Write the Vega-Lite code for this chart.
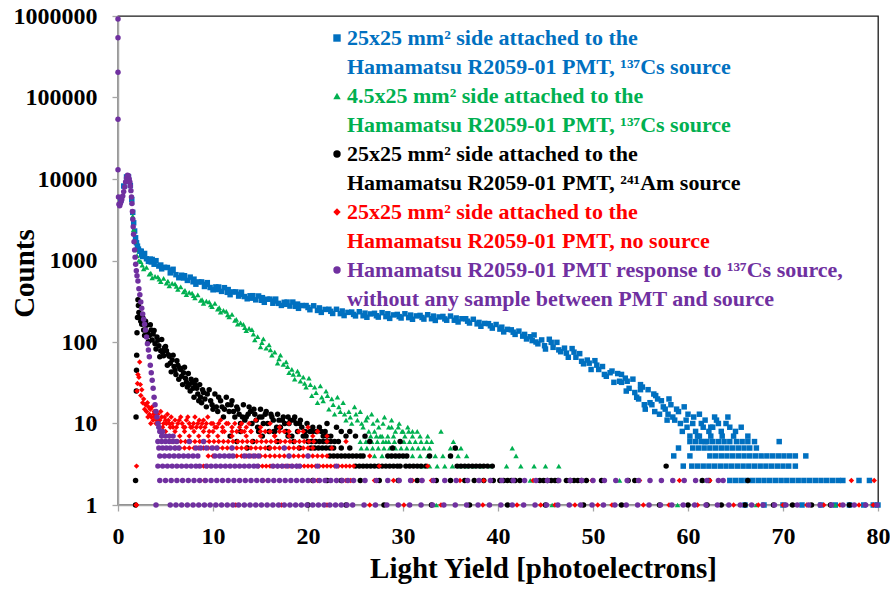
{
"$schema":"https://vega.github.io/schema/vega-lite/v6.json",
"width":760,"height":489,
"autosize":{"type":"none"},
"padding":{"left":118,"top":16,"right":12,"bottom":85},
"background":"white",
"config":{
"view":{"stroke":"#1a1a1a","strokeWidth":1.3},
"axis":{"grid":false,"domainColor":"#A6A6A6","domainWidth":1.5,"tickColor":"#A6A6A6","tickWidth":1.3,"tickSize":6,"labelFont":"Liberation Serif","labelFontWeight":"bold","labelFontSize":24,"labelColor":"#000","titleFont":"Liberation Serif","titleFontWeight":"bold","titleFontSize":29,"titleColor":"#000"}
},
"data":{"values":[
{"s":"B","x":0.3,"y":5500},{"s":"B","x":0.6,"y":8200},{"s":"B","x":0.9,"y":10600},{"s":"B","x":1.1,"y":10700},{"s":"B","x":1.3,"y":8300},{"s":"B","x":1.45,"y":5600},{"s":"B","x":1.55,"y":3900},{"s":"B","x":1.65,"y":2900},
{"s":"B","x":1.75,"y":2300},{"s":"B","x":1.85,"y":1900},{"s":"B","x":1.95,"y":1650},{"s":"B","x":2.05,"y":1500},{"s":"B","x":2.15,"y":1380},{"s":"B","x":2.3,"y":1300},{"s":"B","x":2.45,"y":1300},{"s":"B","x":2.6,"y":1120},{"s":"B","x":2.8,"y":1220},{"s":"B","x":3.0,"y":1050},{"s":"B","x":3.2,"y":975},{"s":"B","x":3.4,"y":1040},{"s":"B","x":3.6,"y":1030},{"s":"B","x":3.8,"y":900},{"s":"B","x":4.0,"y":995},{"s":"B","x":4.3,"y":855},{"s":"B","x":4.6,"y":790},{"s":"B","x":4.9,"y":825},{"s":"B","x":5.2,"y":820},{"s":"B","x":5.5,"y":705},{"s":"B","x":5.8,"y":780},{"s":"B","x":6.1,"y":670},{"s":"B","x":6.4,"y":615},{"s":"B","x":6.7,"y":660},{"s":"B","x":7.0,"y":650},{"s":"B","x":7.3,"y":570},{"s":"B","x":7.6,"y":625},{"s":"B","x":7.9,"y":548},{"s":"B","x":8.2,"y":512},{"s":"B","x":8.5,"y":546},{"s":"B","x":8.8,"y":546},{"s":"B","x":9.1,"y":480},{"s":"B","x":9.4,"y":535},{"s":"B","x":9.7,"y":466},{"s":"B","x":10.0,"y":437},{"s":"B","x":10.3,"y":474},{"s":"B","x":10.6,"y":473},{"s":"B","x":10.9,"y":418},{"s":"B","x":11.2,"y":464},{"s":"B","x":11.5,"y":407},{"s":"B","x":11.8,"y":381},{"s":"B","x":12.1,"y":412},{"s":"B","x":12.4,"y":412},{"s":"B","x":12.7,"y":366},{"s":"B","x":13.0,"y":408},{"s":"B","x":13.3,"y":361},{"s":"B","x":13.6,"y":339},{"s":"B","x":13.9,"y":369},{"s":"B","x":14.2,"y":370},{"s":"B","x":14.5,"y":329},{"s":"B","x":14.8,"y":367},{"s":"B","x":15.1,"y":325},{"s":"B","x":15.4,"y":307},{"s":"B","x":15.7,"y":335},{"s":"B","x":16.0,"y":336},{"s":"B","x":16.3,"y":299},{"s":"B","x":16.6,"y":336},{"s":"B","x":16.9,"y":298},{"s":"B","x":17.2,"y":281},{"s":"B","x":17.5,"y":307},{"s":"B","x":17.8,"y":309},{"s":"B","x":18.1,"y":276},{"s":"B","x":18.4,"y":309},{"s":"B","x":18.7,"y":274},{"s":"B","x":19.0,"y":259},{"s":"B","x":19.4,"y":280},{"s":"B","x":19.8,"y":280},{"s":"B","x":20.2,"y":249},{"s":"B","x":20.6,"y":278},{"s":"B","x":21.0,"y":244},{"s":"B","x":21.4,"y":231},{"s":"B","x":21.8,"y":251},{"s":"B","x":22.2,"y":252},{"s":"B","x":22.6,"y":224},{"s":"B","x":23.0,"y":252},{"s":"B","x":23.4,"y":223},{"s":"B","x":23.8,"y":211},{"s":"B","x":24.2,"y":231},{"s":"B","x":24.6,"y":233},{"s":"B","x":25.0,"y":209},{"s":"B","x":25.4,"y":235},{"s":"B","x":25.8,"y":210},{"s":"B","x":26.2,"y":201},{"s":"B","x":26.6,"y":221},{"s":"B","x":27.0,"y":225},{"s":"B","x":27.4,"y":202},{"s":"B","x":27.8,"y":229},{"s":"B","x":28.2,"y":205},{"s":"B","x":28.6,"y":195},{"s":"B","x":29.0,"y":215},{"s":"B","x":29.4,"y":218},{"s":"B","x":29.8,"y":197},{"s":"B","x":30.2,"y":222},{"s":"B","x":30.6,"y":199},{"s":"B","x":31.0,"y":190},{"s":"B","x":31.4,"y":209},{"s":"B","x":31.8,"y":212},{"s":"B","x":32.2,"y":191},{"s":"B","x":32.6,"y":216},{"s":"B","x":33.0,"y":193},{"s":"B","x":33.4,"y":184},{"s":"B","x":33.8,"y":203},{"s":"B","x":34.2,"y":206},{"s":"B","x":34.6,"y":185},{"s":"B","x":35.0,"y":208},{"s":"B","x":35.4,"y":185},{"s":"B","x":35.8,"y":176},{"s":"B","x":36.2,"y":193},{"s":"B","x":36.6,"y":193},{"s":"B","x":37.0,"y":171},{"s":"B","x":37.4,"y":190},{"s":"B","x":37.8,"y":167},{"s":"B","x":38.2,"y":156},{"s":"B","x":38.6,"y":169},{"s":"B","x":39.0,"y":168},{"s":"B","x":39.4,"y":148},{"s":"B","x":39.8,"y":164},{"s":"B","x":40.2,"y":144},{"s":"B","x":40.6,"y":133},{"s":"B","x":41.0,"y":143},{"s":"B","x":41.4,"y":141},{"s":"B","x":41.8,"y":124},{"s":"B","x":42.2,"y":136},{"s":"B","x":42.6,"y":118},{"s":"B","x":43.0,"y":109},{"s":"B","x":43.4,"y":116},{"s":"B","x":43.8,"y":122},{"s":"B","x":44.2,"y":95},{"s":"B","x":44.6,"y":106},{"s":"B","x":45.0,"y":82},{"s":"B","x":45.4,"y":108},{"s":"B","x":45.8,"y":86},{"s":"B","x":46.2,"y":99},{"s":"B","x":46.6,"y":76},{"s":"B","x":47.0,"y":84},{"s":"B","x":47.4,"y":65},{"s":"B","x":47.8,"y":83},{"s":"B","x":48.2,"y":65},{"s":"B","x":48.6,"y":72},{"s":"B","x":49.0,"y":54},{"s":"B","x":49.4,"y":60},{"s":"B","x":49.8,"y":46},{"s":"B","x":50.2,"y":59},{"s":"B","x":50.6,"y":46},{"s":"B","x":51.0,"y":50},{"s":"B","x":51.4,"y":38},{"s":"B","x":51.8,"y":42},{"s":"B","x":52.2,"y":32},{"s":"B","x":52.6,"y":41},{"s":"B","x":53.0,"y":32},{"s":"B","x":53.4,"y":36},{"s":"B","x":53.8,"y":27},{"s":"B","x":54.2,"y":35},{"s":"B","x":54.6,"y":21},{"s":"B","x":55.0,"y":26},{"s":"B","x":55.4,"y":17},{"s":"B","x":55.8,"y":26},{"s":"B","x":56.2,"y":17},{"s":"B","x":56.6,"y":22},{"s":"B","x":57.0,"y":13},{"s":"B","x":57.4,"y":16},{"s":"B","x":57.8,"y":11},{"s":"B","x":58.2,"y":17},{"s":"B","x":58.6,"y":11},{"s":"B","x":59.0,"y":14},{"s":"B","x":59.4,"y":8},{"s":"B","x":59.8,"y":11},{"s":"B","x":60.2,"y":7},{"s":"B","x":60.6,"y":12},{"s":"B","x":61.0,"y":7},{"s":"B","x":61.4,"y":10},{"s":"B","x":61.8,"y":6},{"s":"B","x":62.2,"y":8},
{"s":"B","x":2.5,"y":1180},{"s":"B","x":3.5,"y":960},{"s":"B","x":4.5,"y":880},{"s":"B","x":5.6,"y":760},{"s":"B","x":6.9,"y":610},{"s":"B","x":8.0,"y":590},{"s":"B","x":9.2,"y":510},{"s":"B","x":10.5,"y":440},{"s":"B","x":11.6,"y":440},{"s":"B","x":12.9,"y":385},{"s":"B","x":14.0,"y":345},{"s":"B","x":15.2,"y":350},{"s":"B","x":16.4,"y":318},{"s":"B","x":17.6,"y":290},{"s":"B","x":18.9,"y":292},{"s":"B","x":20.0,"y":265},{"s":"B","x":21.2,"y":262},{"s":"B","x":22.4,"y":238},{"s":"B","x":23.6,"y":240},{"s":"B","x":24.8,"y":218},{"s":"B","x":26.0,"y":226},{"s":"B","x":27.2,"y":210},{"s":"B","x":28.4,"y":222},{"s":"B","x":29.6,"y":205},{"s":"B","x":30.8,"y":214},{"s":"B","x":32.0,"y":200},{"s":"B","x":33.2,"y":208},{"s":"B","x":34.4,"y":192},{"s":"B","x":35.6,"y":197},{"s":"B","x":36.8,"y":180},{"s":"B","x":38.0,"y":174},{"s":"B","x":39.2,"y":158},{"s":"B","x":40.4,"y":152},{"s":"B","x":41.6,"y":132},{"s":"B","x":42.8,"y":124},{"s":"B","x":43.6,"y":104},
{"s":"B","x":44.0,"y":100},{"s":"B","x":44.9,"y":90},{"s":"B","x":45.6,"y":99},{"s":"B","x":46.4,"y":80},{"s":"B","x":47.2,"y":73},{"s":"B","x":48.0,"y":75},{"s":"B","x":48.8,"y":58},{"s":"B","x":49.6,"y":55},{"s":"B","x":50.4,"y":52},{"s":"B","x":51.2,"y":40},{"s":"B","x":52.0,"y":44},{"s":"B","x":52.8,"y":33},{"s":"B","x":53.6,"y":33},{"s":"B","x":54.4,"y":24},{"s":"B","x":55.2,"y":28},{"s":"B","x":56.0,"y":18},{"s":"B","x":56.8,"y":20},{"s":"B","x":57.6,"y":15},{"s":"B","x":58.4,"y":12},{"s":"B","x":59.2,"y":10},{"s":"B","x":60.0,"y":13},{"s":"B","x":60.8,"y":8},{"s":"B","x":61.6,"y":9},{"s":"B","x":62.6,"y":9},{"s":"B","x":63.0,"y":11},{"s":"B","x":63.5,"y":8},{"s":"B","x":64.0,"y":10},{"s":"B","x":64.4,"y":9},{"s":"B","x":62.8,"y":12},{"s":"B","x":61.2,"y":13},{"s":"B","x":59.6,"y":16},{"s":"B","x":58.0,"y":20},{"s":"B","x":56.4,"y":23},{"s":"B","x":55.0,"y":30},{"s":"B","x":53.0,"y":40},{"s":"B","x":56.5,"y":14},{"s":"B","x":55.5,"y":15},{"s":"B","x":53.5,"y":25},{"s":"B","x":60.5,"y":10},{"s":"B","x":61.8,"y":11},{"s":"B","x":62.4,"y":9},{"s":"B","x":63.2,"y":10},{"s":"B","x":64.2,"y":12},{"s":"B","x":65.0,"y":8},{"s":"B","x":65.6,"y":9},{"s":"B","x":57.2,"y":19},{"s":"B","x":58.8,"y":15},{"s":"B","x":59.9,"y":9},{"s":"B","x":57.9,"y":13},{"s":"B","x":54.8,"y":20},
{"s":"B","x":61.2,"y":7},{"s":"B","x":62.4,"y":7},{"s":"B","x":63.6,"y":7},{"s":"B","x":64.8,"y":7},{"s":"B","x":66.3,"y":7},
{"s":"B","x":60.2,"y":6},{"s":"B","x":60.8,"y":6},{"s":"B","x":61.4,"y":6},{"s":"B","x":62.0,"y":6},{"s":"B","x":62.6,"y":6},{"s":"B","x":63.2,"y":6},{"s":"B","x":63.8,"y":6},{"s":"B","x":64.4,"y":6},{"s":"B","x":65.1,"y":6},{"s":"B","x":65.7,"y":6},{"s":"B","x":66.3,"y":6},{"s":"B","x":67.0,"y":6},{"s":"B","x":69.6,"y":6},
{"s":"B","x":59.0,"y":5},{"s":"B","x":60.5,"y":5},{"s":"B","x":61.1,"y":5},{"s":"B","x":61.7,"y":5},{"s":"B","x":62.3,"y":5},{"s":"B","x":62.9,"y":5},{"s":"B","x":63.5,"y":5},{"s":"B","x":64.1,"y":5},{"s":"B","x":64.7,"y":5},{"s":"B","x":65.3,"y":5},{"s":"B","x":65.9,"y":5},{"s":"B","x":66.5,"y":5},{"s":"B","x":67.2,"y":5},
{"s":"B","x":58.5,"y":4},{"s":"B","x":60.2,"y":4},{"s":"B","x":62.3,"y":4},{"s":"B","x":62.9,"y":4},{"s":"B","x":63.5,"y":4},{"s":"B","x":64.1,"y":4},{"s":"B","x":64.7,"y":4},{"s":"B","x":65.3,"y":4},{"s":"B","x":65.9,"y":4},{"s":"B","x":66.5,"y":4},{"s":"B","x":67.1,"y":4},{"s":"B","x":67.7,"y":4},{"s":"B","x":68.3,"y":4},{"s":"B","x":68.9,"y":4},{"s":"B","x":69.5,"y":4},{"s":"B","x":70.1,"y":4},{"s":"B","x":70.7,"y":4},{"s":"B","x":71.3,"y":4},{"s":"B","x":72.4,"y":4},
{"s":"B","x":59.5,"y":3},{"s":"B","x":60.4,"y":3},{"s":"B","x":61.0,"y":3},{"s":"B","x":61.6,"y":3},{"s":"B","x":62.2,"y":3},{"s":"B","x":62.8,"y":3},{"s":"B","x":63.4,"y":3},{"s":"B","x":64.0,"y":3},{"s":"B","x":64.6,"y":3},{"s":"B","x":65.2,"y":3},{"s":"B","x":65.8,"y":3},{"s":"B","x":66.4,"y":3},{"s":"B","x":67.0,"y":3},{"s":"B","x":67.6,"y":3},{"s":"B","x":68.2,"y":3},{"s":"B","x":68.8,"y":3},{"s":"B","x":69.4,"y":3},{"s":"B","x":70.0,"y":3},{"s":"B","x":70.6,"y":3},{"s":"B","x":71.3,"y":3},
{"s":"B","x":64.4,"y":2},{"s":"B","x":65.0,"y":2},{"s":"B","x":65.6,"y":2},{"s":"B","x":66.2,"y":2},{"s":"B","x":66.8,"y":2},{"s":"B","x":67.4,"y":2},{"s":"B","x":68.0,"y":2},{"s":"B","x":68.6,"y":2},{"s":"B","x":69.2,"y":2},{"s":"B","x":69.8,"y":2},{"s":"B","x":70.4,"y":2},{"s":"B","x":71.0,"y":2},{"s":"B","x":71.6,"y":2},{"s":"B","x":72.2,"y":2},{"s":"B","x":72.8,"y":2},{"s":"B","x":73.4,"y":2},{"s":"B","x":74.0,"y":2},{"s":"B","x":74.6,"y":2},{"s":"B","x":75.2,"y":2},{"s":"B","x":75.8,"y":2},{"s":"B","x":76.3,"y":2},{"s":"B","x":78.0,"y":2},{"s":"B","x":79.1,"y":2},
{"s":"B","x":66,"y":1},{"s":"B","x":68,"y":1},{"s":"B","x":70,"y":1},{"s":"B","x":72,"y":1},{"s":"B","x":74,"y":1},{"s":"B","x":75.5,"y":1},{"s":"B","x":77,"y":1},{"s":"B","x":78.5,"y":1},{"s":"B","x":79.5,"y":1},{"s":"B","x":80,"y":1},
{"s":"G","x":1.45,"y":5200},{"s":"G","x":1.55,"y":3500},{"s":"G","x":1.65,"y":2400},{"s":"G","x":1.75,"y":1700},{"s":"G","x":1.85,"y":1350},{"s":"G","x":2.0,"y":1150},{"s":"G","x":2.2,"y":1000},{"s":"G","x":2.4,"y":966},{"s":"G","x":2.7,"y":789},{"s":"G","x":3.0,"y":821},{"s":"G","x":3.3,"y":679},{"s":"G","x":3.6,"y":614},{"s":"G","x":3.9,"y":639},{"s":"G","x":4.2,"y":630},{"s":"G","x":4.5,"y":551},{"s":"G","x":4.8,"y":605},{"s":"G","x":5.1,"y":529},{"s":"G","x":5.4,"y":488},{"s":"G","x":5.7,"y":525},{"s":"G","x":6.0,"y":515},{"s":"G","x":6.3,"y":442},{"s":"G","x":6.6,"y":475},{"s":"G","x":6.9,"y":412},{"s":"G","x":7.2,"y":381},{"s":"G","x":7.5,"y":407},{"s":"G","x":7.8,"y":399},{"s":"G","x":8.1,"y":347},{"s":"G","x":8.4,"y":378},{"s":"G","x":8.7,"y":325},{"s":"G","x":9.0,"y":298},{"s":"G","x":9.3,"y":317},{"s":"G","x":9.6,"y":310},{"s":"G","x":9.9,"y":271},{"s":"G","x":10.2,"y":297},{"s":"G","x":10.5,"y":254},{"s":"G","x":10.8,"y":233},{"s":"G","x":11.1,"y":245},{"s":"G","x":11.4,"y":237},{"s":"G","x":11.7,"y":204},{"s":"G","x":12.0,"y":219},{"s":"G","x":12.3,"y":184},{"s":"G","x":12.6,"y":166},{"s":"G","x":12.9,"y":172},{"s":"G","x":13.2,"y":165},{"s":"G","x":13.5,"y":138},{"s":"G","x":13.8,"y":147},{"s":"G","x":14.1,"y":142},{"s":"G","x":14.4,"y":106},{"s":"G","x":14.7,"y":116},{"s":"G","x":15.0,"y":87},{"s":"G","x":15.3,"y":109},{"s":"G","x":15.6,"y":84},{"s":"G","x":15.9,"y":92},{"s":"G","x":16.2,"y":69},{"s":"G","x":16.5,"y":75},{"s":"G","x":16.8,"y":55},{"s":"G","x":17.1,"y":69},{"s":"G","x":17.4,"y":53},{"s":"G","x":17.7,"y":57},{"s":"G","x":18.0,"y":42},{"s":"G","x":18.3,"y":46},{"s":"G","x":18.6,"y":35},{"s":"G","x":18.9,"y":44},{"s":"G","x":19.2,"y":33},{"s":"G","x":19.5,"y":37},{"s":"G","x":19.8,"y":28},{"s":"G","x":20.1,"y":36},{"s":"G","x":20.4,"y":22},{"s":"G","x":20.7,"y":28},{"s":"G","x":21.0,"y":18},{"s":"G","x":21.3,"y":29},{"s":"G","x":21.6,"y":19},{"s":"G","x":21.9,"y":25},{"s":"G","x":22.2,"y":15},{"s":"G","x":22.5,"y":20},{"s":"G","x":22.8,"y":13},{"s":"G","x":23.1,"y":21},{"s":"G","x":23.4,"y":14},{"s":"G","x":23.7,"y":18},{"s":"G","x":24.0,"y":11},{"s":"G","x":24.3,"y":14},{"s":"G","x":24.6,"y":10},{"s":"G","x":24.9,"y":16},{"s":"G","x":25.2,"y":11},{"s":"G","x":25.5,"y":14},{"s":"G","x":25.8,"y":9},{"s":"G","x":26.1,"y":11},{"s":"G","x":26.4,"y":8},{"s":"G","x":26.7,"y":13},{"s":"G","x":27.0,"y":8},{"s":"G","x":27.3,"y":11},{"s":"G","x":27.6,"y":7},{"s":"G","x":27.9,"y":10},{"s":"G","x":28.2,"y":6},
{"s":"G","x":2.55,"y":880},{"s":"G","x":3.45,"y":700},{"s":"G","x":4.35,"y":590},{"s":"G","x":5.25,"y":560},{"s":"G","x":6.15,"y":480},{"s":"G","x":7.05,"y":430},{"s":"G","x":7.95,"y":370},{"s":"G","x":8.85,"y":330},{"s":"G","x":9.75,"y":285},{"s":"G","x":10.65,"y":265},{"s":"G","x":11.55,"y":215},{"s":"G","x":12.45,"y":190},{"s":"G","x":13.35,"y":150},
{"s":"G","x":14.25,"y":125},{"s":"G","x":15.15,"y":98},{"s":"G","x":16.05,"y":80},{"s":"G","x":16.95,"y":62},{"s":"G","x":17.85,"y":50},{"s":"G","x":18.45,"y":40},{"s":"G","x":19.05,"y":40},{"s":"G","x":19.65,"y":31},{"s":"G","x":20.25,"y":30},{"s":"G","x":20.85,"y":24},{"s":"G","x":21.45,"y":21},{"s":"G","x":22.05,"y":22},{"s":"G","x":22.65,"y":17},{"s":"G","x":23.25,"y":16},{"s":"G","x":23.85,"y":13},{"s":"G","x":24.45,"y":12},{"s":"G","x":25.05,"y":13},{"s":"G","x":25.65,"y":10},{"s":"G","x":26.25,"y":12},{"s":"G","x":26.85,"y":10},{"s":"G","x":27.45,"y":9},{"s":"G","x":28.05,"y":12},{"s":"G","x":28.5,"y":9},{"s":"G","x":28.8,"y":11},{"s":"G","x":29.2,"y":8},{"s":"G","x":29.6,"y":10},{"s":"G","x":30.0,"y":8},{"s":"G","x":30.5,"y":9},{"s":"G","x":31.0,"y":8},{"s":"G","x":31.5,"y":8},
{"s":"G","x":28.8,"y":9},{"s":"G","x":29.5,"y":9},{"s":"G","x":29.9,"y":8},{"s":"G","x":30.6,"y":8},{"s":"G","x":34.0,"y":8},
{"s":"G","x":26.0,"y":7},{"s":"G","x":26.6,"y":7},{"s":"G","x":27.2,"y":7},{"s":"G","x":27.8,"y":7},{"s":"G","x":28.4,"y":7},{"s":"G","x":29.0,"y":7},{"s":"G","x":30.2,"y":7},{"s":"G","x":31.0,"y":7},{"s":"G","x":31.8,"y":7},{"s":"G","x":32.6,"y":7},
{"s":"G","x":25.5,"y":6},{"s":"G","x":26.1,"y":6},{"s":"G","x":26.7,"y":6},{"s":"G","x":27.3,"y":6},{"s":"G","x":27.9,"y":6},{"s":"G","x":28.5,"y":6},{"s":"G","x":29.1,"y":6},{"s":"G","x":30.1,"y":6},{"s":"G","x":30.7,"y":6},{"s":"G","x":31.3,"y":6},{"s":"G","x":31.9,"y":6},{"s":"G","x":32.5,"y":6},{"s":"G","x":33.0,"y":6},{"s":"G","x":35.3,"y":6},
{"s":"G","x":25.6,"y":5},{"s":"G","x":26.2,"y":5},{"s":"G","x":26.8,"y":5},{"s":"G","x":27.4,"y":5},{"s":"G","x":28.0,"y":5},{"s":"G","x":28.6,"y":5},{"s":"G","x":29.2,"y":5},{"s":"G","x":29.8,"y":5},{"s":"G","x":30.4,"y":5},{"s":"G","x":31.0,"y":5},{"s":"G","x":31.6,"y":5},{"s":"G","x":32.2,"y":5},{"s":"G","x":32.8,"y":5},{"s":"G","x":35.0,"y":5},{"s":"G","x":35.6,"y":5},{"s":"G","x":36.1,"y":5},{"s":"G","x":41.5,"y":5},
{"s":"G","x":27.0,"y":4},{"s":"G","x":27.8,"y":4},{"s":"G","x":28.6,"y":4},{"s":"G","x":29.4,"y":4},{"s":"G","x":30.2,"y":4},{"s":"G","x":31.0,"y":4},{"s":"G","x":31.8,"y":4},{"s":"G","x":32.6,"y":4},{"s":"G","x":33.4,"y":4},{"s":"G","x":34.2,"y":4},{"s":"G","x":35.0,"y":4},{"s":"G","x":35.8,"y":4},{"s":"G","x":36.7,"y":4},{"s":"G","x":41.9,"y":4},
{"s":"G","x":32.0,"y":3},{"s":"G","x":32.8,"y":3},{"s":"G","x":33.6,"y":3},{"s":"G","x":34.4,"y":3},{"s":"G","x":35.2,"y":3},{"s":"G","x":36.0,"y":3},{"s":"G","x":36.7,"y":3},{"s":"G","x":37.4,"y":3},{"s":"G","x":38.2,"y":3},{"s":"G","x":39.2,"y":3},{"s":"G","x":40.9,"y":3},{"s":"G","x":42.4,"y":3},{"s":"G","x":43.8,"y":3},{"s":"G","x":45.0,"y":3},{"s":"G","x":46.4,"y":3},
{"s":"G","x":43.4,"y":2},{"s":"G","x":52.8,"y":2},{"s":"G","x":61.5,"y":2},
{"s":"G","x":33.5,"y":1},{"s":"G","x":45.7,"y":1},{"s":"G","x":58.9,"y":1},{"s":"G","x":67.2,"y":1},{"s":"G","x":75.5,"y":1},
{"s":"K","x":1.85,"y":1},{"s":"K","x":1.85,"y":2},{"s":"K","x":1.9,"y":12},{"s":"K","x":1.93,"y":25},{"s":"K","x":1.95,"y":45},{"s":"K","x":1.97,"y":69},{"s":"K","x":2.0,"y":130},{"s":"K","x":2.05,"y":200},{"s":"K","x":2.1,"y":330},{"s":"K","x":2.15,"y":280},{"s":"K","x":2.2,"y":230},{"s":"K","x":2.3,"y":200},{"s":"K","x":2.4,"y":180},{"s":"K","x":2.5,"y":165},
{"s":"K","x":2.6,"y":200},{"s":"K","x":2.8,"y":120},{"s":"K","x":3.0,"y":160},{"s":"K","x":3.2,"y":101},{"s":"K","x":3.4,"y":163},{"s":"K","x":3.6,"y":106},{"s":"K","x":3.8,"y":138},{"s":"K","x":4.0,"y":82},{"s":"K","x":4.2,"y":105},{"s":"K","x":4.4,"y":66},{"s":"K","x":4.6,"y":107},{"s":"K","x":4.8,"y":68},{"s":"K","x":5.0,"y":88},{"s":"K","x":5.2,"y":52},{"s":"K","x":5.4,"y":67},{"s":"K","x":5.6,"y":43},{"s":"K","x":5.8,"y":69},{"s":"K","x":6.0,"y":45},{"s":"K","x":6.2,"y":59},{"s":"K","x":6.4,"y":35},{"s":"K","x":6.6,"y":46},{"s":"K","x":6.8,"y":30},{"s":"K","x":7.0,"y":49},{"s":"K","x":7.2,"y":32},{"s":"K","x":7.4,"y":41},{"s":"K","x":7.6,"y":25},{"s":"K","x":7.8,"y":32},{"s":"K","x":8.0,"y":21},{"s":"K","x":8.2,"y":34},{"s":"K","x":8.4,"y":23},{"s":"K","x":8.6,"y":30},{"s":"K","x":8.8,"y":18},{"s":"K","x":9.0,"y":24},{"s":"K","x":9.3,"y":16},{"s":"K","x":9.6,"y":26},{"s":"K","x":9.9,"y":17},{"s":"K","x":10.2,"y":23},{"s":"K","x":10.5,"y":14},{"s":"K","x":10.8,"y":19},{"s":"K","x":11.1,"y":12},{"s":"K","x":11.4,"y":21},{"s":"K","x":11.7,"y":14},{"s":"K","x":12.0,"y":19},{"s":"K","x":12.3,"y":12},{"s":"K","x":12.6,"y":15},{"s":"K","x":12.9,"y":10},{"s":"K","x":13.2,"y":17},{"s":"K","x":13.5,"y":12},{"s":"K","x":13.8,"y":16},{"s":"K","x":14.1,"y":10},{"s":"K","x":14.4,"y":13},{"s":"K","x":14.7,"y":9},{"s":"K","x":15.0,"y":15},{"s":"K","x":15.3,"y":10},{"s":"K","x":15.6,"y":14},{"s":"K","x":15.9,"y":8},{"s":"K","x":16.2,"y":12},{"s":"K","x":16.5,"y":8},{"s":"K","x":16.8,"y":13},{"s":"K","x":17.1,"y":9},{"s":"K","x":17.4,"y":12},{"s":"K","x":17.7,"y":8},{"s":"K","x":18.0,"y":10},{"s":"K","x":18.3,"y":7},{"s":"K","x":18.6,"y":12},{"s":"K","x":18.9,"y":8},{"s":"K","x":19.2,"y":11},{"s":"K","x":19.5,"y":7},
{"s":"K","x":2.7,"y":140},{"s":"K","x":3.1,"y":130},{"s":"K","x":3.5,"y":140},{"s":"K","x":3.9,"y":95},{"s":"K","x":4.3,"y":90},{"s":"K","x":4.7,"y":75},{"s":"K","x":5.1,"y":78},{"s":"K","x":5.5,"y":55},{"s":"K","x":5.9,"y":50},{"s":"K","x":6.3,"y":52},{"s":"K","x":6.7,"y":38},{"s":"K","x":7.1,"y":36},{"s":"K","x":7.5,"y":30},{"s":"K","x":7.9,"y":27},{"s":"K","x":8.3,"y":27},{"s":"K","x":8.7,"y":21},{"s":"K","x":9.15,"y":20},{"s":"K","x":9.75,"y":19},{"s":"K","x":10.35,"y":16},{"s":"K","x":10.95,"y":16},{"s":"K","x":11.55,"y":17},{"s":"K","x":12.15,"y":14},{"s":"K","x":12.75,"y":13},{"s":"K","x":13.35,"y":11},{"s":"K","x":13.95,"y":14},{"s":"K","x":14.55,"y":11},{"s":"K","x":15.15,"y":12},{"s":"K","x":15.75,"y":10},{"s":"K","x":16.35,"y":11},{"s":"K","x":16.95,"y":11},{"s":"K","x":17.55,"y":10},{"s":"K","x":18.15,"y":11},{"s":"K","x":18.75,"y":10},{"s":"K","x":19.35,"y":9},{"s":"K","x":19.9,"y":10},{"s":"K","x":20.5,"y":9},{"s":"K","x":21.2,"y":9},{"s":"K","x":22.0,"y":10},{"s":"K","x":23.0,"y":9},{"s":"K","x":24.4,"y":8},
{"s":"K","x":2.9,"y":180},{"s":"K","x":3.3,"y":120},{"s":"K","x":3.7,"y":125},{"s":"K","x":4.1,"y":115},{"s":"K","x":4.5,"y":78},{"s":"K","x":4.9,"y":85},{"s":"K","x":5.3,"y":70},{"s":"K","x":5.7,"y":60},{"s":"K","x":6.1,"y":40},{"s":"K","x":6.5,"y":48},{"s":"K","x":6.9,"y":42},{"s":"K","x":7.3,"y":28},{"s":"K","x":7.7,"y":35},{"s":"K","x":8.1,"y":30},{"s":"K","x":8.5,"y":19},{"s":"K","x":8.9,"y":26},{"s":"K","x":9.4,"y":23},{"s":"K","x":10.0,"y":15},{"s":"K","x":10.6,"y":21},{"s":"K","x":11.2,"y":15},{"s":"K","x":11.9,"y":17},{"s":"K","x":12.5,"y":16},{"s":"K","x":13.1,"y":12},{"s":"K","x":13.7,"y":13},{"s":"K","x":14.3,"y":15},{"s":"K","x":14.9,"y":12},{"s":"K","x":15.5,"y":13},{"s":"K","x":16.1,"y":13},{"s":"K","x":16.7,"y":9},{"s":"K","x":17.3,"y":11},{"s":"K","x":17.9,"y":12},{"s":"K","x":18.5,"y":11},{"s":"K","x":19.1,"y":10},{"s":"K","x":19.7,"y":8},
{"s":"K","x":20.2,"y":8},{"s":"K","x":20.5,"y":8},{"s":"K","x":20.9,"y":8},{"s":"K","x":21.4,"y":8},{"s":"K","x":21.8,"y":8},{"s":"K","x":23.5,"y":8},{"s":"K","x":12.9,"y":8},{"s":"K","x":14.8,"y":8},{"s":"K","x":16.4,"y":8},
{"s":"K","x":19.8,"y":7},{"s":"K","x":21.6,"y":7},{"s":"K","x":22.0,"y":7},{"s":"K","x":22.4,"y":7},{"s":"K","x":24.0,"y":7},{"s":"K","x":25.0,"y":7},{"s":"K","x":26.0,"y":7},{"s":"K","x":11.8,"y":7},{"s":"K","x":15.2,"y":7},{"s":"K","x":17.9,"y":7},
{"s":"K","x":20.0,"y":6},{"s":"K","x":20.4,"y":6},{"s":"K","x":20.8,"y":6},{"s":"K","x":21.2,"y":6},{"s":"K","x":21.6,"y":6},{"s":"K","x":22.0,"y":6},{"s":"K","x":22.4,"y":6},{"s":"K","x":22.8,"y":6},{"s":"K","x":23.2,"y":6},{"s":"K","x":26.5,"y":6},{"s":"K","x":29.7,"y":6},{"s":"K","x":12.5,"y":6},{"s":"K","x":14.2,"y":6},{"s":"K","x":16.8,"y":6},{"s":"K","x":18.5,"y":6},
{"s":"K","x":20.3,"y":5},{"s":"K","x":20.7,"y":5},{"s":"K","x":21.1,"y":5},{"s":"K","x":21.5,"y":5},{"s":"K","x":21.9,"y":5},{"s":"K","x":22.3,"y":5},{"s":"K","x":22.7,"y":5},{"s":"K","x":23.5,"y":5},{"s":"K","x":24.4,"y":5},{"s":"K","x":28.9,"y":5},{"s":"K","x":35.5,"y":5},{"s":"K","x":13.6,"y":5},{"s":"K","x":15.9,"y":5},{"s":"K","x":19.1,"y":5},
{"s":"K","x":22.3,"y":4},{"s":"K","x":22.7,"y":4},{"s":"K","x":23.1,"y":4},{"s":"K","x":23.5,"y":4},{"s":"K","x":23.9,"y":4},{"s":"K","x":24.3,"y":4},{"s":"K","x":24.7,"y":4},{"s":"K","x":25.1,"y":4},{"s":"K","x":25.5,"y":4},{"s":"K","x":25.8,"y":4},{"s":"K","x":28.4,"y":4},{"s":"K","x":28.8,"y":4},{"s":"K","x":29.2,"y":4},{"s":"K","x":29.6,"y":4},{"s":"K","x":30.0,"y":4},{"s":"K","x":30.4,"y":4},{"s":"K","x":32.8,"y":4},{"s":"K","x":35.0,"y":4},
{"s":"K","x":25.0,"y":3},{"s":"K","x":25.4,"y":3},{"s":"K","x":25.8,"y":3},{"s":"K","x":26.2,"y":3},{"s":"K","x":26.6,"y":3},{"s":"K","x":27.0,"y":3},{"s":"K","x":27.4,"y":3},{"s":"K","x":27.8,"y":3},{"s":"K","x":28.2,"y":3},{"s":"K","x":28.6,"y":3},{"s":"K","x":29.0,"y":3},{"s":"K","x":29.4,"y":3},{"s":"K","x":29.7,"y":3},{"s":"K","x":30.3,"y":3},{"s":"K","x":30.7,"y":3},{"s":"K","x":31.1,"y":3},{"s":"K","x":31.5,"y":3},{"s":"K","x":31.9,"y":3},{"s":"K","x":32.4,"y":3},{"s":"K","x":35.7,"y":3},{"s":"K","x":36.1,"y":3},{"s":"K","x":36.5,"y":3},{"s":"K","x":36.9,"y":3},{"s":"K","x":37.3,"y":3},{"s":"K","x":37.7,"y":3},{"s":"K","x":38.1,"y":3},{"s":"K","x":38.5,"y":3},{"s":"K","x":38.9,"y":3},{"s":"K","x":39.4,"y":3},{"s":"K","x":57.7,"y":3},
{"s":"K","x":20.5,"y":2},{"s":"K","x":22.0,"y":2},{"s":"K","x":23.5,"y":2},{"s":"K","x":25.5,"y":2},{"s":"K","x":27.5,"y":2},{"s":"K","x":29.5,"y":2},{"s":"K","x":31.5,"y":2},{"s":"K","x":33.5,"y":2},{"s":"K","x":35.0,"y":2},{"s":"K","x":36.5,"y":2},{"s":"K","x":37.5,"y":2},{"s":"K","x":38.5,"y":2},{"s":"K","x":39.5,"y":2},{"s":"K","x":40.2,"y":2},{"s":"K","x":40.6,"y":2},{"s":"K","x":41.0,"y":2},{"s":"K","x":41.4,"y":2},{"s":"K","x":41.8,"y":2},{"s":"K","x":42.3,"y":2},{"s":"K","x":44.4,"y":2},{"s":"K","x":44.8,"y":2},{"s":"K","x":45.2,"y":2},{"s":"K","x":45.6,"y":2},{"s":"K","x":46.0,"y":2},{"s":"K","x":46.3,"y":2},{"s":"K","x":47.2,"y":2},{"s":"K","x":47.6,"y":2},{"s":"K","x":48.0,"y":2},{"s":"K","x":48.4,"y":2},{"s":"K","x":48.8,"y":2},{"s":"K","x":49.3,"y":2},{"s":"K","x":50.9,"y":2},{"s":"K","x":53.7,"y":2},{"s":"K","x":54.4,"y":2},{"s":"K","x":61.5,"y":2},{"s":"K","x":62.2,"y":2},{"s":"K","x":66.3,"y":2},
{"s":"K","x":20.0,"y":1},{"s":"K","x":24.0,"y":1},{"s":"K","x":28.0,"y":1},{"s":"K","x":33.0,"y":1},{"s":"K","x":37.0,"y":1},{"s":"K","x":41.0,"y":1},{"s":"K","x":45.0,"y":1},{"s":"K","x":49.0,"y":1},{"s":"K","x":53.0,"y":1},{"s":"K","x":57.0,"y":1},{"s":"K","x":60.0,"y":1},{"s":"K","x":62.0,"y":1},{"s":"K","x":63.5,"y":1},{"s":"K","x":66.0,"y":1},{"s":"K","x":69.0,"y":1},{"s":"K","x":71.0,"y":1},{"s":"K","x":73.0,"y":1},{"s":"K","x":75.0,"y":1},{"s":"K","x":77.0,"y":1},
{"s":"R","x":1.9,"y":1},{"s":"R","x":1.95,"y":3},{"s":"R","x":2.0,"y":25},{"s":"R","x":2.05,"y":31},{"s":"R","x":2.1,"y":40},{"s":"R","x":2.2,"y":37},{"s":"R","x":2.28,"y":57},{"s":"R","x":2.35,"y":30},{"s":"R","x":2.4,"y":22},{"s":"R","x":2.5,"y":26},{"s":"R","x":2.6,"y":18},{"s":"R","x":2.7,"y":20},{"s":"R","x":2.8,"y":15},{"s":"R","x":2.9,"y":17},{"s":"R","x":3.0,"y":14},{"s":"R","x":3.1,"y":18},{"s":"R","x":3.2,"y":16},{"s":"R","x":3.3,"y":13},{"s":"R","x":3.4,"y":15},{"s":"R","x":3.5,"y":12},{"s":"R","x":3.6,"y":16},{"s":"R","x":3.7,"y":11},{"s":"R","x":3.8,"y":14},{"s":"R","x":3.9,"y":12},{"s":"R","x":4.0,"y":10},{"s":"R","x":4.2,"y":13},{"s":"R","x":4.4,"y":11},{"s":"R","x":4.6,"y":12},{"s":"R","x":4.8,"y":10},{"s":"R","x":5.0,"y":11},{"s":"R","x":5.2,"y":13},{"s":"R","x":5.4,"y":10},{"s":"R","x":5.6,"y":12},{"s":"R","x":5.8,"y":9},{"s":"R","x":6.0,"y":11},{"s":"R","x":6.3,"y":10},{"s":"R","x":6.6,"y":12},{"s":"R","x":6.9,"y":9},{"s":"R","x":7.2,"y":11},{"s":"R","x":7.5,"y":10},{"s":"R","x":7.8,"y":9},{"s":"R","x":8.1,"y":12},{"s":"R","x":8.4,"y":10},{"s":"R","x":8.7,"y":9},{"s":"R","x":9.0,"y":11},{"s":"R","x":9.3,"y":10},{"s":"R","x":9.6,"y":8},{"s":"R","x":10.0,"y":10},{"s":"R","x":10.4,"y":9},{"s":"R","x":10.8,"y":11},{"s":"R","x":11.2,"y":8},{"s":"R","x":11.6,"y":10},{"s":"R","x":12.0,"y":9},{"s":"R","x":12.5,"y":8},{"s":"R","x":13.0,"y":10},{"s":"R","x":13.5,"y":9},{"s":"R","x":14.0,"y":8},{"s":"R","x":14.5,"y":11},{"s":"R","x":15.0,"y":9},{"s":"R","x":15.5,"y":8},{"s":"R","x":16.0,"y":10},{"s":"R","x":16.5,"y":7},{"s":"R","x":17.0,"y":9},{"s":"R","x":17.5,"y":8},{"s":"R","x":18.0,"y":10},{"s":"R","x":19.0,"y":8},{"s":"R","x":20.0,"y":9},{"s":"R","x":21.0,"y":8},{"s":"R","x":22.0,"y":7},
{"s":"R","x":3.15,"y":12},{"s":"R","x":3.45,"y":10},{"s":"R","x":3.75,"y":13},{"s":"R","x":4.1,"y":11},{"s":"R","x":4.3,"y":10},{"s":"R","x":4.5,"y":14},{"s":"R","x":4.7,"y":9},{"s":"R","x":4.9,"y":12},{"s":"R","x":5.1,"y":10},{"s":"R","x":5.3,"y":11},{"s":"R","x":5.5,"y":9},{"s":"R","x":5.7,"y":10},{"s":"R","x":6.15,"y":9},{"s":"R","x":6.45,"y":11},{"s":"R","x":6.75,"y":10},{"s":"R","x":7.05,"y":9},{"s":"R","x":7.35,"y":12},{"s":"R","x":7.65,"y":9},{"s":"R","x":7.95,"y":10},{"s":"R","x":8.25,"y":9},{"s":"R","x":8.55,"y":11},{"s":"R","x":8.85,"y":10},{"s":"R","x":9.15,"y":9},{"s":"R","x":9.45,"y":12},{"s":"R","x":9.8,"y":10},{"s":"R","x":10.2,"y":9},{"s":"R","x":10.6,"y":10},{"s":"R","x":11.0,"y":9},{"s":"R","x":11.4,"y":10},{"s":"R","x":12.3,"y":10},{"s":"R","x":12.8,"y":9},{"s":"R","x":13.3,"y":8},{"s":"R","x":13.8,"y":10},
{"s":"R","x":5.0,"y":8},{"s":"R","x":6.0,"y":8},{"s":"R","x":7.0,"y":8},{"s":"R","x":8.0,"y":8},{"s":"R","x":9.0,"y":8},{"s":"R","x":10.0,"y":8},{"s":"R","x":11.0,"y":8},{"s":"R","x":12.0,"y":8},{"s":"R","x":13.0,"y":8},{"s":"R","x":14.0,"y":8},{"s":"R","x":15.0,"y":8},{"s":"R","x":16.0,"y":8},{"s":"R","x":17.0,"y":8},{"s":"R","x":18.0,"y":8},{"s":"R","x":19.5,"y":8},{"s":"R","x":21.0,"y":8},
{"s":"R","x":4.6,"y":7},{"s":"R","x":5.4,"y":7},{"s":"R","x":6.5,"y":7},{"s":"R","x":7.5,"y":7},{"s":"R","x":8.5,"y":7},{"s":"R","x":9.5,"y":7},{"s":"R","x":10.5,"y":7},{"s":"R","x":12.0,"y":7},{"s":"R","x":13.5,"y":7},{"s":"R","x":15.0,"y":7},{"s":"R","x":16.5,"y":7},{"s":"R","x":18.0,"y":7},{"s":"R","x":20.5,"y":7},
{"s":"R","x":5.6,"y":6},{"s":"R","x":6.1,"y":6},{"s":"R","x":6.6,"y":6},{"s":"R","x":7.1,"y":6},{"s":"R","x":7.6,"y":6},{"s":"R","x":8.1,"y":6},{"s":"R","x":8.6,"y":6},{"s":"R","x":9.1,"y":6},{"s":"R","x":9.6,"y":6},{"s":"R","x":10.1,"y":6},{"s":"R","x":10.6,"y":6},{"s":"R","x":11.1,"y":6},{"s":"R","x":11.6,"y":6},{"s":"R","x":12.1,"y":6},{"s":"R","x":12.6,"y":6},{"s":"R","x":13.1,"y":6},{"s":"R","x":13.6,"y":6},{"s":"R","x":14.1,"y":6},{"s":"R","x":14.6,"y":6},{"s":"R","x":15.1,"y":6},{"s":"R","x":15.6,"y":6},{"s":"R","x":16.1,"y":6},{"s":"R","x":16.6,"y":6},{"s":"R","x":17.1,"y":6},{"s":"R","x":17.6,"y":6},{"s":"R","x":18.1,"y":6},{"s":"R","x":18.6,"y":6},{"s":"R","x":19.1,"y":6},{"s":"R","x":19.6,"y":6},{"s":"R","x":20.1,"y":6},{"s":"R","x":20.6,"y":6},{"s":"R","x":22.0,"y":6},{"s":"R","x":24.0,"y":6},
{"s":"R","x":6.0,"y":5},{"s":"R","x":6.5,"y":5},{"s":"R","x":7.0,"y":5},{"s":"R","x":7.5,"y":5},{"s":"R","x":8.0,"y":5},{"s":"R","x":8.5,"y":5},{"s":"R","x":9.0,"y":5},{"s":"R","x":9.5,"y":5},{"s":"R","x":10.0,"y":5},{"s":"R","x":10.5,"y":5},{"s":"R","x":11.0,"y":5},{"s":"R","x":11.5,"y":5},{"s":"R","x":12.0,"y":5},{"s":"R","x":12.5,"y":5},{"s":"R","x":13.0,"y":5},{"s":"R","x":13.5,"y":5},{"s":"R","x":14.0,"y":5},{"s":"R","x":14.5,"y":5},{"s":"R","x":15.0,"y":5},{"s":"R","x":15.5,"y":5},{"s":"R","x":16.0,"y":5},{"s":"R","x":16.5,"y":5},{"s":"R","x":17.0,"y":5},{"s":"R","x":17.5,"y":5},{"s":"R","x":18.0,"y":5},{"s":"R","x":18.5,"y":5},{"s":"R","x":19.0,"y":5},{"s":"R","x":19.5,"y":5},{"s":"R","x":20.0,"y":5},{"s":"R","x":20.5,"y":5},{"s":"R","x":22.5,"y":5},
{"s":"R","x":9.5,"y":4},{"s":"R","x":10.0,"y":4},{"s":"R","x":12.5,"y":4},{"s":"R","x":13.0,"y":4},{"s":"R","x":13.5,"y":4},{"s":"R","x":14.0,"y":4},{"s":"R","x":14.5,"y":4},{"s":"R","x":15.0,"y":4},{"s":"R","x":15.5,"y":4},{"s":"R","x":16.0,"y":4},{"s":"R","x":16.5,"y":4},{"s":"R","x":17.0,"y":4},{"s":"R","x":17.5,"y":4},{"s":"R","x":18.0,"y":4},{"s":"R","x":18.5,"y":4},{"s":"R","x":19.0,"y":4},{"s":"R","x":19.5,"y":4},{"s":"R","x":20.0,"y":4},{"s":"R","x":20.5,"y":4},{"s":"R","x":21.0,"y":4},{"s":"R","x":21.5,"y":4},{"s":"R","x":22.0,"y":4},{"s":"R","x":26.5,"y":4},
{"s":"R","x":9.0,"y":3},{"s":"R","x":9.4,"y":3},{"s":"R","x":14.8,"y":3},{"s":"R","x":15.2,"y":3},{"s":"R","x":15.6,"y":3},{"s":"R","x":16.0,"y":3},{"s":"R","x":16.4,"y":3},{"s":"R","x":16.8,"y":3},{"s":"R","x":17.2,"y":3},{"s":"R","x":17.6,"y":3},{"s":"R","x":18.0,"y":3},{"s":"R","x":18.4,"y":3},{"s":"R","x":18.8,"y":3},{"s":"R","x":19.2,"y":3},{"s":"R","x":19.6,"y":3},{"s":"R","x":20.0,"y":3},{"s":"R","x":20.4,"y":3},{"s":"R","x":20.8,"y":3},{"s":"R","x":21.2,"y":3},{"s":"R","x":21.6,"y":3},{"s":"R","x":22.0,"y":3},{"s":"R","x":22.4,"y":3},{"s":"R","x":22.8,"y":3},{"s":"R","x":23.2,"y":3},{"s":"R","x":23.6,"y":3},{"s":"R","x":24.0,"y":3},{"s":"R","x":24.4,"y":3},{"s":"R","x":24.8,"y":3},{"s":"R","x":27.5,"y":3},{"s":"R","x":32.6,"y":3},
{"s":"R","x":9.1,"y":2},{"s":"R","x":15.3,"y":2},{"s":"R","x":20.5,"y":2},{"s":"R","x":21.0,"y":2},{"s":"R","x":23.0,"y":2},{"s":"R","x":24.0,"y":2},{"s":"R","x":24.5,"y":2},{"s":"R","x":27.0,"y":2},{"s":"R","x":29.0,"y":2},{"s":"R","x":31.0,"y":2},{"s":"R","x":32.0,"y":2},{"s":"R","x":33.0,"y":2},{"s":"R","x":36.0,"y":2},{"s":"R","x":38.5,"y":2},{"s":"R","x":43.7,"y":2},{"s":"R","x":49.9,"y":2},{"s":"R","x":54.9,"y":2},{"s":"R","x":59.1,"y":2},{"s":"R","x":62.3,"y":2},{"s":"R","x":77.2,"y":2},{"s":"R","x":79.6,"y":2},
{"s":"R","x":1.95,"y":1},{"s":"R","x":12.4,"y":1},{"s":"R","x":17.2,"y":1},{"s":"R","x":22.0,"y":1},{"s":"R","x":26.5,"y":1},{"s":"R","x":30.1,"y":1},{"s":"R","x":34.0,"y":1},{"s":"R","x":38.4,"y":1},{"s":"R","x":42.0,"y":1},{"s":"R","x":44.5,"y":1},{"s":"R","x":46.0,"y":1},{"s":"R","x":48.1,"y":1},{"s":"R","x":50.5,"y":1},{"s":"R","x":52.0,"y":1},{"s":"R","x":55.3,"y":1},{"s":"R","x":58.0,"y":1},{"s":"R","x":61.0,"y":1},{"s":"R","x":64.8,"y":1},{"s":"R","x":67.4,"y":1},{"s":"R","x":70.0,"y":1},{"s":"R","x":72.5,"y":1},{"s":"R","x":74.3,"y":1},{"s":"R","x":76.0,"y":1},{"s":"R","x":78.0,"y":1},{"s":"R","x":79.5,"y":1},
{"s":"P","x":0,"y":920000},{"s":"P","x":0,"y":540000},{"s":"P","x":0,"y":204000},{"s":"P","x":0,"y":54000},{"s":"P","x":0,"y":13000},
{"s":"P","x":0.05,"y":6000},{"s":"P","x":0.1,"y":4900},{"s":"P","x":0.18,"y":4700},{"s":"P","x":0.25,"y":5000},{"s":"P","x":0.32,"y":5300},{"s":"P","x":0.4,"y":5600},{"s":"P","x":0.5,"y":6200},{"s":"P","x":0.6,"y":7000},{"s":"P","x":0.7,"y":8000},{"s":"P","x":0.8,"y":9200},{"s":"P","x":0.9,"y":10300},{"s":"P","x":1.0,"y":11100},{"s":"P","x":1.1,"y":11000},{"s":"P","x":1.18,"y":10000},{"s":"P","x":1.25,"y":9200},{"s":"P","x":1.3,"y":8200},{"s":"P","x":1.36,"y":7200},{"s":"P","x":1.42,"y":6000},{"s":"P","x":1.47,"y":5000},{"s":"P","x":1.52,"y":4000},{"s":"P","x":1.56,"y":3200},{"s":"P","x":1.6,"y":2600},{"s":"P","x":1.64,"y":2100},{"s":"P","x":1.69,"y":1700},{"s":"P","x":1.75,"y":1350},{"s":"P","x":1.8,"y":1100},{"s":"P","x":1.86,"y":900},{"s":"P","x":1.93,"y":750},{"s":"P","x":2.0,"y":650},{"s":"P","x":2.1,"y":560},{"s":"P","x":2.2,"y":450},{"s":"P","x":2.3,"y":380},{"s":"P","x":2.4,"y":310},{"s":"P","x":2.5,"y":260},{"s":"P","x":2.6,"y":220},{"s":"P","x":2.7,"y":190},{"s":"P","x":2.8,"y":165},{"s":"P","x":2.9,"y":140},{"s":"P","x":3.0,"y":115},{"s":"P","x":3.1,"y":95},{"s":"P","x":3.2,"y":80},{"s":"P","x":3.3,"y":66},{"s":"P","x":3.4,"y":52},{"s":"P","x":3.5,"y":42},{"s":"P","x":3.6,"y":34},{"s":"P","x":3.7,"y":27},{"s":"P","x":3.8,"y":21},{"s":"P","x":3.9,"y":17},{"s":"P","x":4.0,"y":14},{"s":"P","x":4.1,"y":12},{"s":"P","x":4.2,"y":10},{"s":"P","x":4.3,"y":9},
{"s":"P","x":4.4,"y":8},{"s":"P","x":4.7,"y":8},
{"s":"P","x":4.6,"y":7},{"s":"P","x":5.0,"y":7},{"s":"P","x":5.4,"y":7},{"s":"P","x":5.8,"y":7},
{"s":"P","x":4.2,"y":6},{"s":"P","x":4.6,"y":6},{"s":"P","x":5.0,"y":6},{"s":"P","x":5.4,"y":6},{"s":"P","x":5.8,"y":6},{"s":"P","x":6.2,"y":6},{"s":"P","x":7.5,"y":6},{"s":"P","x":9.0,"y":6},
{"s":"P","x":4.3,"y":5},{"s":"P","x":4.7,"y":5},{"s":"P","x":5.1,"y":5},{"s":"P","x":5.5,"y":5},{"s":"P","x":6.0,"y":5},{"s":"P","x":6.4,"y":5},{"s":"P","x":8.2,"y":5},{"s":"P","x":8.7,"y":5},{"s":"P","x":9.3,"y":5},{"s":"P","x":9.9,"y":5},{"s":"P","x":10.4,"y":5},{"s":"P","x":12.0,"y":5},{"s":"P","x":17.5,"y":5},
{"s":"P","x":4.4,"y":4},{"s":"P","x":4.9,"y":4},{"s":"P","x":5.4,"y":4},{"s":"P","x":5.9,"y":4},{"s":"P","x":6.4,"y":4},{"s":"P","x":6.9,"y":4},{"s":"P","x":7.4,"y":4},{"s":"P","x":7.9,"y":4},{"s":"P","x":8.4,"y":4},{"s":"P","x":10.2,"y":4},{"s":"P","x":10.7,"y":4},{"s":"P","x":11.2,"y":4},{"s":"P","x":11.7,"y":4},{"s":"P","x":12.1,"y":4},{"s":"P","x":13.3,"y":4},{"s":"P","x":13.8,"y":4},{"s":"P","x":14.3,"y":4},{"s":"P","x":14.8,"y":4},{"s":"P","x":18.0,"y":4},{"s":"P","x":20.0,"y":4},
{"s":"P","x":4.2,"y":3},{"s":"P","x":4.7,"y":3},{"s":"P","x":5.2,"y":3},{"s":"P","x":5.7,"y":3},{"s":"P","x":6.2,"y":3},{"s":"P","x":6.7,"y":3},{"s":"P","x":7.2,"y":3},{"s":"P","x":7.7,"y":3},{"s":"P","x":8.2,"y":3},{"s":"P","x":8.6,"y":3},{"s":"P","x":9.3,"y":3},{"s":"P","x":9.8,"y":3},{"s":"P","x":10.3,"y":3},{"s":"P","x":10.8,"y":3},{"s":"P","x":11.3,"y":3},{"s":"P","x":11.8,"y":3},{"s":"P","x":12.3,"y":3},{"s":"P","x":12.8,"y":3},{"s":"P","x":13.3,"y":3},{"s":"P","x":13.8,"y":3},{"s":"P","x":14.3,"y":3},{"s":"P","x":14.7,"y":3},{"s":"P","x":16.3,"y":3},{"s":"P","x":16.8,"y":3},{"s":"P","x":17.3,"y":3},{"s":"P","x":17.8,"y":3},{"s":"P","x":18.3,"y":3},{"s":"P","x":18.8,"y":3},{"s":"P","x":19.1,"y":3},{"s":"P","x":21.0,"y":3},{"s":"P","x":23.0,"y":3},
{"s":"P","x":4.4,"y":2},{"s":"P","x":5.0,"y":2},{"s":"P","x":5.6,"y":2},{"s":"P","x":6.2,"y":2},{"s":"P","x":6.8,"y":2},{"s":"P","x":7.4,"y":2},{"s":"P","x":8.0,"y":2},{"s":"P","x":8.6,"y":2},{"s":"P","x":9.2,"y":2},{"s":"P","x":9.8,"y":2},{"s":"P","x":10.4,"y":2},{"s":"P","x":11.0,"y":2},{"s":"P","x":11.6,"y":2},{"s":"P","x":12.2,"y":2},{"s":"P","x":12.8,"y":2},{"s":"P","x":13.4,"y":2},{"s":"P","x":14.0,"y":2},{"s":"P","x":14.6,"y":2},{"s":"P","x":15.2,"y":2},{"s":"P","x":15.8,"y":2},{"s":"P","x":16.4,"y":2},{"s":"P","x":17.0,"y":2},{"s":"P","x":17.6,"y":2},{"s":"P","x":18.2,"y":2},{"s":"P","x":18.8,"y":2},{"s":"P","x":19.4,"y":2},{"s":"P","x":20.0,"y":2},{"s":"P","x":20.6,"y":2},{"s":"P","x":21.2,"y":2},{"s":"P","x":21.8,"y":2},{"s":"P","x":22.4,"y":2},{"s":"P","x":23.0,"y":2},{"s":"P","x":23.6,"y":2},{"s":"P","x":24.2,"y":2},{"s":"P","x":24.8,"y":2},{"s":"P","x":26.0,"y":2},{"s":"P","x":27.2,"y":2},{"s":"P","x":28.4,"y":2},{"s":"P","x":29.6,"y":2},{"s":"P","x":30.8,"y":2},{"s":"P","x":32.0,"y":2},{"s":"P","x":33.2,"y":2},{"s":"P","x":34.4,"y":2},{"s":"P","x":35.6,"y":2},{"s":"P","x":36.8,"y":2},{"s":"P","x":38.0,"y":2},{"s":"P","x":39.2,"y":2},{"s":"P","x":40.4,"y":2},{"s":"P","x":41.6,"y":2},{"s":"P","x":42.8,"y":2},{"s":"P","x":44.0,"y":2},{"s":"P","x":45.2,"y":2},{"s":"P","x":46.4,"y":2},{"s":"P","x":47.6,"y":2},{"s":"P","x":48.8,"y":2},{"s":"P","x":50.0,"y":2},{"s":"P","x":51.2,"y":2},{"s":"P","x":52.4,"y":2},{"s":"P","x":53.6,"y":2},{"s":"P","x":54.8,"y":2},{"s":"P","x":56.0,"y":2},{"s":"P","x":57.2,"y":2},{"s":"P","x":58.4,"y":2},{"s":"P","x":59.6,"y":2},{"s":"P","x":60.8,"y":2},{"s":"P","x":62.0,"y":2},{"s":"P","x":63.2,"y":2},{"s":"P","x":63.7,"y":2},
{"s":"P","x":4.0,"y":1},{"s":"P","x":5.5,"y":1},{"s":"P","x":6.1,"y":1},{"s":"P","x":6.7,"y":1},{"s":"P","x":7.3,"y":1},{"s":"P","x":7.9,"y":1},{"s":"P","x":8.5,"y":1},{"s":"P","x":9.1,"y":1},{"s":"P","x":9.7,"y":1},{"s":"P","x":10.3,"y":1},{"s":"P","x":10.9,"y":1},{"s":"P","x":11.5,"y":1},{"s":"P","x":12.1,"y":1},{"s":"P","x":12.7,"y":1},{"s":"P","x":13.3,"y":1},{"s":"P","x":13.9,"y":1},{"s":"P","x":14.5,"y":1},{"s":"P","x":15.1,"y":1},{"s":"P","x":15.7,"y":1},{"s":"P","x":16.3,"y":1},{"s":"P","x":16.9,"y":1},{"s":"P","x":17.5,"y":1},{"s":"P","x":18.1,"y":1},{"s":"P","x":18.7,"y":1},{"s":"P","x":19.3,"y":1},{"s":"P","x":19.9,"y":1},{"s":"P","x":20.5,"y":1},{"s":"P","x":21.1,"y":1},{"s":"P","x":21.7,"y":1},{"s":"P","x":22.3,"y":1},{"s":"P","x":22.9,"y":1},{"s":"P","x":23.5,"y":1},{"s":"P","x":24.1,"y":1},{"s":"P","x":24.7,"y":1},{"s":"P","x":25.9,"y":1},{"s":"P","x":27.1,"y":1},{"s":"P","x":28.3,"y":1},{"s":"P","x":29.5,"y":1},{"s":"P","x":30.7,"y":1},{"s":"P","x":31.9,"y":1},{"s":"P","x":33.1,"y":1},{"s":"P","x":34.3,"y":1},{"s":"P","x":35.5,"y":1},{"s":"P","x":36.7,"y":1},{"s":"P","x":37.9,"y":1},{"s":"P","x":39.1,"y":1},{"s":"P","x":40.3,"y":1},{"s":"P","x":41.5,"y":1},{"s":"P","x":42.7,"y":1},{"s":"P","x":43.9,"y":1},{"s":"P","x":45.1,"y":1},{"s":"P","x":46.3,"y":1},{"s":"P","x":47.5,"y":1},{"s":"P","x":48.7,"y":1},{"s":"P","x":49.9,"y":1},{"s":"P","x":51.1,"y":1},{"s":"P","x":52.3,"y":1},{"s":"P","x":53.5,"y":1},{"s":"P","x":54.7,"y":1},{"s":"P","x":55.9,"y":1},{"s":"P","x":57.1,"y":1},{"s":"P","x":58.3,"y":1},{"s":"P","x":59.5,"y":1},{"s":"P","x":60.7,"y":1},{"s":"P","x":61.9,"y":1},{"s":"P","x":63.1,"y":1},{"s":"P","x":64.3,"y":1},{"s":"P","x":65.5,"y":1},{"s":"P","x":66.7,"y":1},{"s":"P","x":67.9,"y":1},{"s":"P","x":69.1,"y":1},{"s":"P","x":70.3,"y":1},{"s":"P","x":71.5,"y":1},{"s":"P","x":72.7,"y":1},{"s":"P","x":73.9,"y":1},{"s":"P","x":75.1,"y":1},{"s":"P","x":76.3,"y":1},{"s":"P","x":77.5,"y":1},{"s":"P","x":78.7,"y":1},{"s":"P","x":79.9,"y":1}
]},
"mark":{"type":"point","filled":true,"opacity":1,"size":30},
"encoding":{
"x":{"field":"x","type":"quantitative","scale":{"domain":[0,80],"nice":false,"zero":false},"axis":{"values":[0,10,20,30,40,50,60,70,80],"title":"Light Yield [photoelectrons]","titleX":425,"titleY":72,"titleBaseline":"alphabetic","titleAlign":"center","labelPadding":13,"labelFlush":false}},
"y":{"field":"y","type":"quantitative","scale":{"type":"log","domain":[1,1000000],"nice":false},"axis":{"values":[1,10,100,1000,10000,100000,1000000],"format":"d","title":"Counts","titleX":-85,"titleY":257,"titleAngle":-90,"titleBaseline":"alphabetic","titleAlign":"center","labelPadding":15}},
"color":{"field":"s","type":"nominal","scale":{"domain":["B","G","K","R","P"],"range":["#0070C0","#00B050","#000000","#FF0000","#7030A0"]},
"legend":{"title":null,"orient":"none","legendX":208,"legendY":11,"padding":0,"labelFont":"Liberation Serif","labelFontWeight":"bold","labelFontSize":22,"labelLimit":900,"symbolSize":55,"rowPadding":7,"labelOffset":-1,
"labelExpr":"datum.value == 'B' ? ['25x25 mm² side attached to the', 'Hamamatsu R2059-01 PMT, ¹³⁷Cs source'] : datum.value == 'G' ? ['4.5x25 mm² side attached to the', 'Hamamatsu R2059-01 PMT, ¹³⁷Cs source'] : datum.value == 'K' ? ['25x25 mm² side attached to the', 'Hamamatsu R2059-01 PMT, ²⁴¹Am source'] : datum.value == 'R' ? ['25x25 mm² side attached to the', 'Hamamatsu R2059-01 PMT, no source'] : ['Hamamatsu R2059-01 PMT response to ¹³⁷Cs source,', 'without any sample between PMT and source']",
"encoding":{"labels":{"fill":{"condition":[{"test":"datum.value == 'B'","value":"#0070C0"},{"test":"datum.value == 'G'","value":"#00B050"},{"test":"datum.value == 'K'","value":"#000000"},{"test":"datum.value == 'R'","value":"#FF0000"}],"value":"#7030A0"},"lineHeight":{"value":29}}}}},
"shape":{"field":"s","type":"nominal","scale":{"domain":["B","G","K","R","P"],"range":["square","triangle-up","circle","diamond","circle"]},"legend":null}
}
}
